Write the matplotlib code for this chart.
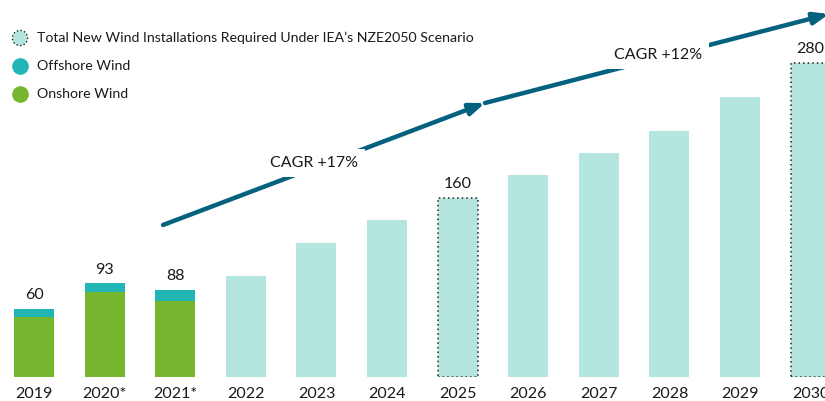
import matplotlib
matplotlib.use("Agg")
import matplotlib.pyplot as plt

plt.rcParams['font.family'] = ['Lato', 'DejaVu Sans']

# ---- data ----
years = ["2019", "2020*", "2021*", "2022", "2023", "2024", "2025",
         "2026", "2027", "2028", "2029", "2030"]
hist_onshore = [53.5, 76, 68]
hist_offshore = [7, 7.5, 9.5]
hist_labels = ["60", "93", "88"]
proj_values = [90, 120, 140, 160, 180, 200, 220, 250, 280]
proj_dotted = [False, False, False, True, False, False, False, False, True]
proj_labels = ["", "", "", "160", "", "", "", "", "280"]
cagr_texts = ["CAGR +17%", "CAGR +12%"]
legend_labels = ["Total New Wind Installations Required Under IEA\u2019s NZE2050 Scenario",
                 "Offshore Wind", "Onshore Wind"]

C_ON = "#76B52E"
C_OFF = "#22B5B5"
C_PROJ = "#B4E5DF"
C_ARROW = "#05627E"
C_TEXT = "#1a1a1a"

W, H = 825, 401
fig = plt.figure(figsize=(W / 100, H / 100), dpi=100)
ax = fig.add_axes([0, 24 / H, 1, 377 / H])
ax.set_xlim(-0.4816, 11.204)
ax.set_ylim(0, 336.6)
for s in ax.spines.values():
    s.set_visible(False)
ax.set_yticks([])

bw = 0.567
xh = list(range(len(hist_onshore)))
ax.bar(xh, hist_onshore, width=bw, color=C_ON, zorder=2)
ax.bar(xh, hist_offshore, width=bw, bottom=hist_onshore, color=C_OFF, zorder=2)
for x, on, off, lab in zip(xh, hist_onshore, hist_offshore, hist_labels):
    ax.annotate(lab, (x, on + off), xytext=(0, 5), textcoords="offset points",
                ha="center", va="bottom", fontsize=11.5, color=C_TEXT)

xp = [len(hist_onshore) + i for i in range(len(proj_values))]
for x, v, dot, lab in zip(xp, proj_values, proj_dotted, proj_labels):
    ax.bar(x, v, width=bw, color=C_PROJ, zorder=2,
           edgecolor="#222222" if dot else "none",
           linestyle=(0, (1, 2)) if dot else "-",
           linewidth=1.1 if dot else 0)
    if lab:
        ax.annotate(lab, (x, v), xytext=(0, 5), textcoords="offset points",
                    ha="center", va="bottom", fontsize=11.5, color=C_TEXT)

ax.set_xticks(range(len(years)))
ax.set_xticklabels(years, fontsize=11.5, color=C_TEXT)
ax.tick_params(axis="x", length=0, pad=7)

# ---- CAGR arrows (figure pixel coords) ----
def fp(x, y):
    return (x, H - y)

arrows = [((163, 225), (485, 103)), ((485, 103), (829, 14))]
text_pos = [(314, 163), (658, 55)]
for (p0, p1), txt, tp in zip(arrows, cagr_texts, text_pos):
    ax.annotate("", xy=fp(*p1), xytext=fp(*p0), xycoords="figure pixels",
                textcoords="figure pixels",
                arrowprops=dict(arrowstyle="-|>,head_length=0.9,head_width=0.35",
                                color=C_ARROW, lw=3.2, shrinkA=0, shrinkB=0),
                zorder=3, annotation_clip=False)
    fig.text(tp[0] / W, 1 - tp[1] / H, txt, ha="center", va="center",
             fontsize=11.5, color=C_TEXT, zorder=5,
             bbox=dict(facecolor="white", edgecolor="none", pad=5))

# ---- legend ----
leg_y = [38, 66, 94]
leg_fc = [C_PROJ, C_OFF, C_ON]
leg_ec = ["#222222", C_OFF, C_ON]
leg_ls = [":", "-", "-"]
for y, lab, fc, ec, ls in zip(leg_y, legend_labels, leg_fc, leg_ec, leg_ls):
    ax.scatter([20 / W], [1 - y / H], s=120, transform=fig.transFigure,
               facecolor=fc, edgecolor=ec, linestyle=ls, linewidth=1.0,
               zorder=6, clip_on=False)
    fig.text(37 / W, 1 - y / H, lab, ha="left", va="center",
             fontsize=10.2, color=C_TEXT)

fig.savefig("out.png", dpi=100)
